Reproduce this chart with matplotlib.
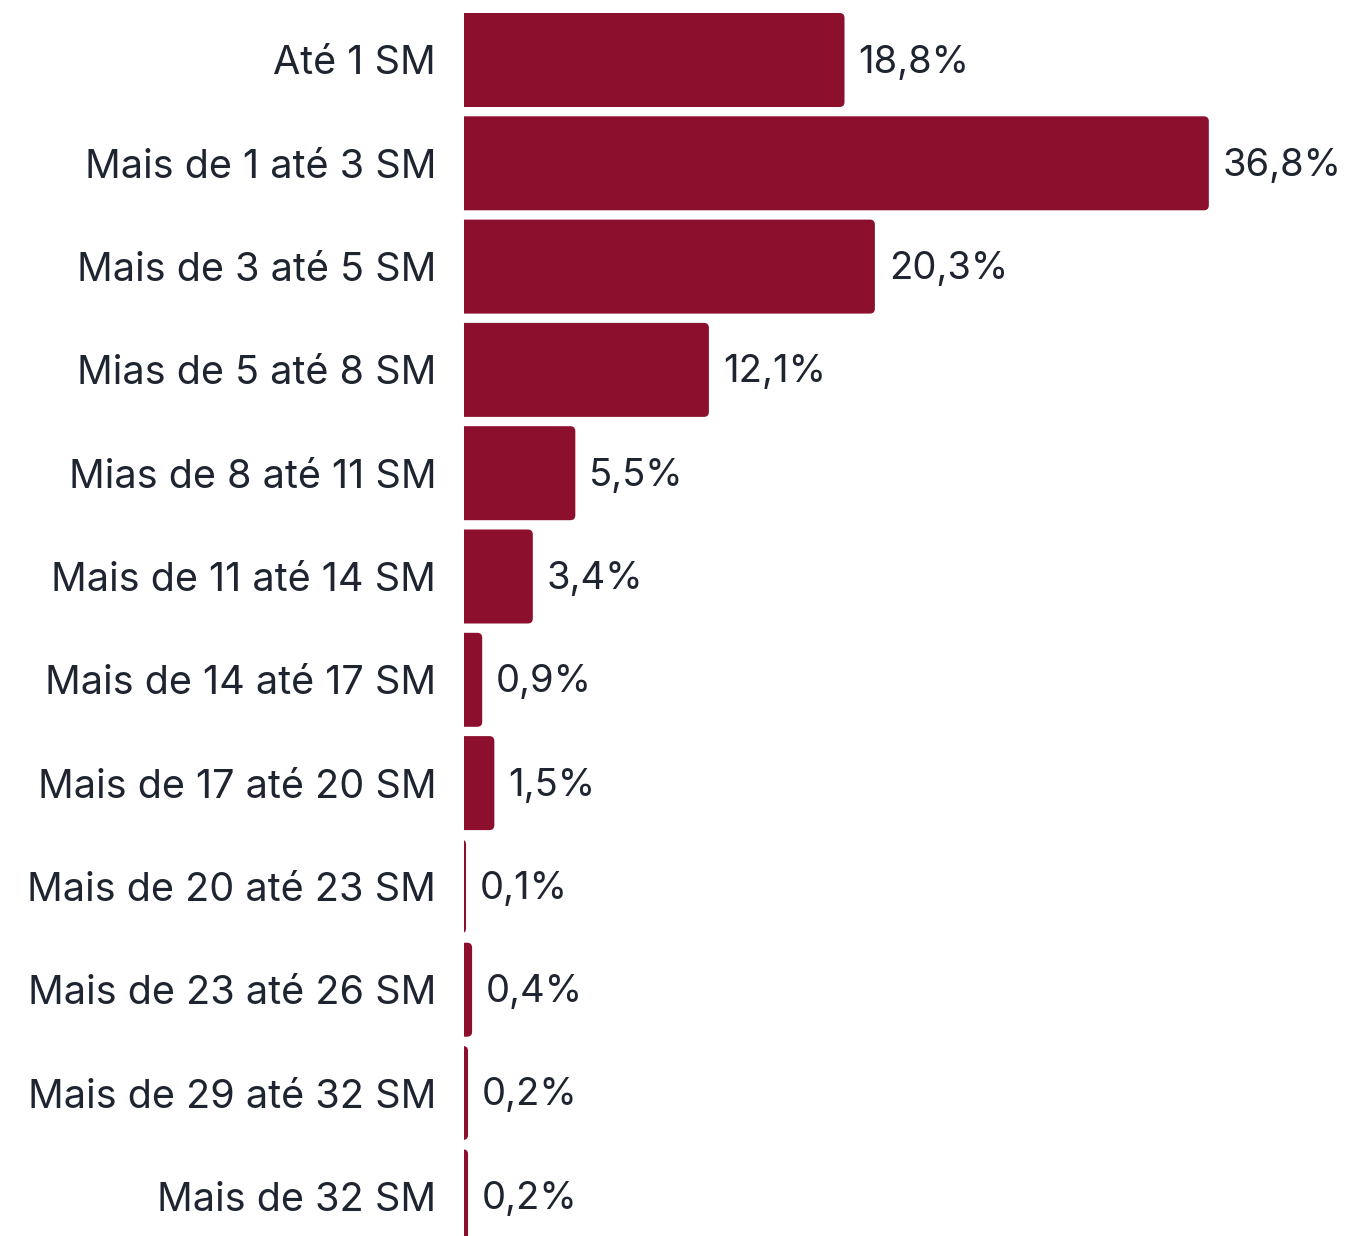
import matplotlib
matplotlib.use("Agg")
import matplotlib.pyplot as plt
from matplotlib.patches import FancyBboxPatch

plt.rcParams['font.family'] = ['Inter', 'DejaVu Sans']

# dados
faixas = ['Até 1 SM', 'Mais de 1 até 3 SM', 'Mais de 3 até 5 SM', 'Mias de 5 até 8 SM',
          'Mias de 8 até 11 SM', 'Mais de 11 até 14 SM', 'Mais de 14 até 17 SM',
          'Mais de 17 até 20 SM', 'Mais de 20 até 23 SM', 'Mais de 23 até 26 SM',
          'Mais de 29 até 32 SM', 'Mais de 32 SM']
percentuais = [18.8, 36.8, 20.3, 12.1, 5.5, 3.4, 0.9, 1.5, 0.1, 0.4, 0.2, 0.2]

cor_barra = '#8C0F2E'
cor_texto = '#1E2430'

W, H = 1349, 1236
fig = plt.figure(figsize=(W / 100, H / 100), dpi=100)
x0 = 464
ax = fig.add_axes([x0 / W, 0, (W - x0) / W, 1])

px_x = 20.24   # pixels por ponto percentual
px_y = 103.3   # pixels por categoria
ax.set_xlim(0, (W - x0) / px_x)
ax.set_ylim((H - 60) / px_y, -60 / px_y)

altura = 94 / px_y
raio = 5 / px_x
for i, v in enumerate(percentuais):
    # comeca antes do zero para que só os cantos da direita fiquem arredondados
    p = FancyBboxPatch((-1, i - altura / 2), v + 1, altura,
                       boxstyle='round,pad=0,rounding_size=%f' % raio,
                       mutation_aspect=px_x / px_y,
                       facecolor=cor_barra, edgecolor='none')
    ax.add_patch(p)
    ax.text(v + 14 / px_x, i + 12.5 / px_y, ('%.1f%%' % v).replace('.', ','),
            va='baseline', ha='left', fontsize=27.5, color=cor_texto)

ax.set_yticks(range(len(faixas)))
ax.set_yticklabels(faixas, fontsize=28.5, color=cor_texto)
ax.tick_params(axis='y', length=0, pad=20)
ax.set_xticks([])
for s in ax.spines.values():
    s.set_visible(False)

fig.savefig('out.png', dpi=100)
